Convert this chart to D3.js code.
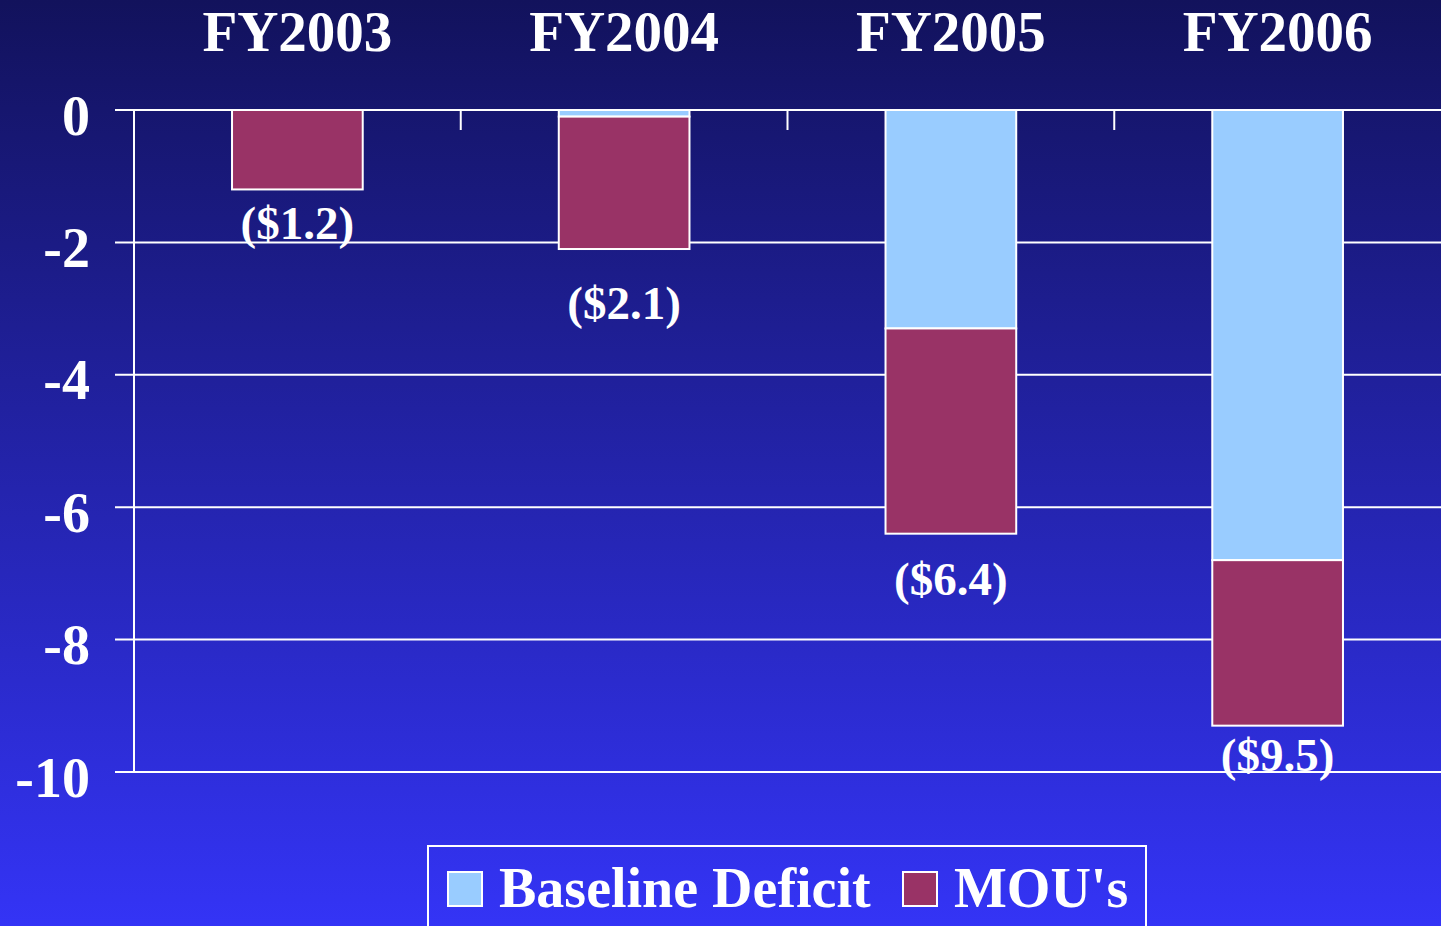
<!DOCTYPE html>
<html>
<head>
<meta charset="utf-8">
<script src="https://cdn.jsdelivr.net/npm/d3@7"></script>
<style>
  html, body { margin: 0; padding: 0; overflow: hidden; }
  svg { display: block; font-family: "Liberation Serif", "Times New Roman", serif; font-weight: bold; }
</style>
</head>
<body>
<div id="chart"></div>
<script>
// data ($ billions, negative = deficit)
const categories = ["FY2003", "FY2004", "FY2005", "FY2006"];
const baselineDeficit = [0, -0.1, -3.3, -6.8];
const mous = [-1.2, -2.0, -3.1, -2.5];
const totalLabels = ["($1.2)", "($2.1)", "($6.4)", "($9.5)"];
const yTicks = [0, -2, -4, -6, -8, -10];
const seriesNames = ["Baseline Deficit", "MOU's"];

function drawChart() {
  const W = 1441, H = 926;
  const margin = {top: 110, right: 0, bottom: 154, left: 134};

  const svg = d3.select("#chart")
    .append("svg")
      .attr("width", W)
      .attr("height", H);

  // background gradient
  const grad = svg.append("defs").append("linearGradient")
      .attr("id", "bg")
      .attr("x1", 0).attr("y1", 0).attr("x2", 0).attr("y2", 1);
  grad.append("stop").attr("offset", "0%").attr("stop-color", "#12125c");
  grad.append("stop").attr("offset", "100%").attr("stop-color", "#3434f6");
  svg.append("rect").attr("width", W).attr("height", H).attr("fill", "url(#bg)");

  const x = d3.scaleBand()
    .domain(categories)
    .range([margin.left, W - margin.right])
    .padding(0);

  const y = d3.scaleLinear()
    .domain([-10, 0])
    .range([H - margin.bottom, margin.top]);

  // gridlines + y labels
  svg.append("g")
    .selectAll("line")
    .data(yTicks)
    .join("line")
      .attr("x1", 115)
      .attr("x2", W)
      .attr("y1", d => y(d))
      .attr("y2", d => y(d))
      .attr("stroke", "white")
      .attr("stroke-width", 2);

  svg.append("g")
    .selectAll("text")
    .data(yTicks)
    .join("text")
      .attr("x", 90)
      .attr("y", d => y(d) + 5)
      .attr("dy", "0.35em")
      .attr("text-anchor", "end")
      .attr("fill", "white")
      .style("font-size", "56px")
      .text(d => d);

  // y axis line
  svg.append("line")
    .attr("x1", margin.left).attr("x2", margin.left)
    .attr("y1", y(0)).attr("y2", y(-10))
    .attr("stroke", "white")
    .attr("stroke-width", 2);

  // category ticks on the zero line
  svg.append("g")
    .selectAll("line")
    .data(categories.slice(1))
    .join("line")
      .attr("x1", d => x(d))
      .attr("x2", d => x(d))
      .attr("y1", y(0))
      .attr("y2", y(0) + 20)
      .attr("stroke", "white")
      .attr("stroke-width", 2);

  // category labels at top
  svg.append("g")
    .selectAll("text")
    .data(categories)
    .join("text")
      .attr("x", d => x(d) + x.bandwidth() / 2)
      .attr("y", 51)
      .attr("text-anchor", "middle")
      .attr("fill", "white")
      .style("font-size", "57px")
      .text(d => d);

  // stacked bars
  const rows = categories.map((c, i) => ({cat: c, baseline: baselineDeficit[i], mou: mous[i]}));
  const stack = d3.stack()
    .keys(["baseline", "mou"])
    .offset(d3.stackOffsetDiverging);
  const stacked = stack(rows);
  const color = d3.scaleOrdinal()
    .domain(["baseline", "mou"])
    .range(["#99ccff", "#993366"]);

  const barW = x.bandwidth() * 0.4;

  svg.append("g")
    .selectAll("g")
    .data(stacked)
    .join("g")
      .attr("fill", d => color(d.key))
    .selectAll("rect")
    .data(d => d.filter(v => v[1] - v[0] !== 0))
    .join("rect")
      .attr("x", d => x(d.data.cat) + (x.bandwidth() - barW) / 2)
      .attr("y", d => y(d[1]))
      .attr("width", barW)
      .attr("height", d => y(d[0]) - y(d[1]))
      .attr("stroke", "white")
      .attr("stroke-width", 2);

  // total labels under each bar
  const labelOffsets = [50, 70, 61, 45];
  svg.append("g")
    .selectAll("text")
    .data(categories)
    .join("text")
      .attr("x", d => x(d) + x.bandwidth() / 2)
      .attr("y", (d, i) => y(baselineDeficit[i] + mous[i]) + labelOffsets[i])
      .attr("text-anchor", "middle")
      .attr("fill", "white")
      .style("font-size", "47px")
      .text((d, i) => totalLabels[i]);

  // legend
  const legend = svg.append("g");
  legend.append("rect")
    .attr("x", 428).attr("y", 846)
    .attr("width", 718).attr("height", 120)
    .attr("fill", "none")
    .attr("stroke", "white")
    .attr("stroke-width", 2);

  const legendX = [448, 903];
  const items = legend.selectAll("g")
    .data(seriesNames)
    .join("g")
      .attr("transform", (d, i) => `translate(${legendX[i]}, 872)`);
  items.append("rect")
    .attr("width", 34).attr("height", 34)
    .attr("fill", (d, i) => color.range()[i])
    .attr("stroke", "white")
    .attr("stroke-width", 2);
  items.append("text")
    .attr("x", 51)
    .attr("y", 35)
    .attr("fill", "white")
    .style("font-size", "56px")
    .text(d => d);
}

drawChart();
</script>
</body>
</html>
